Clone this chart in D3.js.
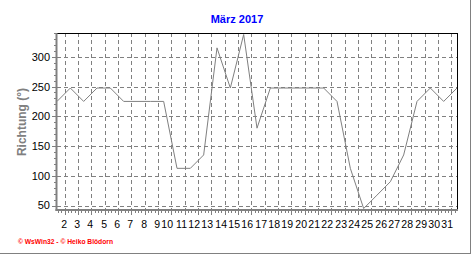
<!DOCTYPE html>
<html><head><meta charset="utf-8">
<script src="https://cdn.jsdelivr.net/npm/d3@7"></script>
<style>body{margin:0;background:#fff}svg{display:block}</style>
</head><body>
<script>
const title = "März 2017";
const yLabel = "Richtung (°)";
const footer = "© WsWin32 - © Heiko Blödorn";
const days = d3.range(1, 32);
const direction = [225, 247.5, 225, 247.5, 247.5, 225, 225, 225, 225, 112.5, 112.5, 135, 315, 247.5, 337.5, 180,
  247.5, 247.5, 247.5, 247.5, 247.5, 225, 112.5, 45, 67.5, 90, 135, 225, 247.5, 225, 247.5];
const xTickLabels = d3.range(2, 32);
const yTicks = [50, 100, 150, 200, 250, 300];
const yDomain = [45, 340];

const W = 472, H = 255;
const L = 57, R = 457, T = 33, B = 208.5;
const svg = d3.select("body").append("svg").attr("width", W).attr("height", H);
svg.append("rect").attr("width", W).attr("height", H).attr("fill", "#fff");

const x = d3.scaleLinear().domain([1, 31]).range([L, R]);
const y = d3.scaleLinear().domain(yDomain).range([B, T]);
const gridOff = 0.42;
const gx = d => Math.round(x(d - gridOff)) + 0.5;

// frame shadow
svg.append("line").attr("x1", 0).attr("x2", 471).attr("y1", 253.5).attr("y2", 253.5).attr("stroke", "#808080");
svg.append("line").attr("x1", 470.5).attr("x2", 470.5).attr("y1", 0).attr("y2", 254).attr("stroke", "#808080");

// grid
const g = svg.append("g").attr("stroke", "#808080").attr("stroke-dasharray", "4,3").attr("stroke-width", 1);
g.selectAll(".hg").data(yTicks).join("line")
  .attr("x1", L).attr("x2", R)
  .attr("y1", d => Math.round(y(d)) + 0.5).attr("y2", d => Math.round(y(d)) + 0.5);
g.selectAll(".vg").data(xTickLabels).join("line")
  .attr("x1", d => gx(d)).attr("x2", d => gx(d))
  .attr("y1", T).attr("y2", 209);

// top/right border
svg.append("line").attr("x1", L).attr("x2", R + 1).attr("y1", T + 0.5).attr("y2", T + 0.5).attr("stroke", "#000");
svg.append("line").attr("x1", R + 0.5).attr("x2", R + 0.5).attr("y1", T).attr("y2", 211).attr("stroke", "#000");

// data line
svg.append("path")
  .datum(days.map((d, i) => [d, direction[i]]))
  .attr("fill", "none").attr("stroke", "#808080").attr("stroke-width", 1)
  .attr("d", d3.line().x(d => x(d[0])).y(d => y(d[1])));

// axes
const axc = "#808080";
svg.append("line").attr("x1", 56.5).attr("x2", 56.5).attr("y1", T).attr("y2", 211).attr("stroke", axc).attr("stroke-width", 2);
svg.append("line").attr("x1", 55.5).attr("x2", R + 1).attr("y1", 210).attr("y2", 210).attr("stroke", axc).attr("stroke-width", 2);

// y ticks
const yMinor = d3.range(50, 341, 10);
svg.selectAll(".ymt").data(yMinor).join("line")
  .attr("x1", d => d % 50 === 0 ? 52 : 54).attr("x2", 56)
  .attr("y1", d => Math.round(y(d)) + 0.5).attr("y2", d => Math.round(y(d)) + 0.5)
  .attr("stroke", axc);
svg.selectAll(".ytl").data(yTicks).join("text")
  .attr("x", 50).attr("y", d => y(d)).attr("dy", "0.36em")
  .attr("text-anchor", "end").attr("font-family", "Liberation Sans, Arial, sans-serif")
  .attr("font-size", 11).attr("fill", "#000").text(d => d);

// x ticks
const xMinor = d3.range(0, 31 * 4 + 8).map(k => 1 - gridOff - 1 + k / 4).filter(d => x(d) >= L && x(d) <= R);
svg.selectAll(".xmt").data(xMinor).join("line")
  .attr("x1", d => Math.round(x(d)) + 0.5).attr("x2", d => Math.round(x(d)) + 0.5)
  .attr("y1", 211).attr("y2", 213).attr("stroke", axc);
svg.selectAll(".xMt").data(xTickLabels).join("line")
  .attr("x1", d => gx(d)).attr("x2", d => gx(d))
  .attr("y1", 211).attr("y2", 215).attr("stroke", axc);
svg.selectAll(".xtl").data(xTickLabels).join("text")
  .attr("x", d => gx(d) + 1.5).attr("y", 227.5)
  .attr("text-anchor", "end").attr("font-family", "Liberation Sans, Arial, sans-serif")
  .attr("font-size", 10.5).attr("fill", "#000").text(d => d);

// title
svg.append("text").attr("x", 237).attr("y", 23.3).attr("text-anchor", "middle")
  .attr("font-family", "Liberation Sans, Arial, sans-serif").attr("font-weight", "bold")
  .attr("font-size", 11).attr("fill", "#0000ff").text(title);

// y label
svg.append("text").attr("transform", "translate(26,122) rotate(-90)").attr("text-anchor", "middle")
  .attr("font-family", "Liberation Sans, Arial, sans-serif").attr("font-weight", "bold")
  .attr("font-size", 12).attr("fill", "#808080").text(yLabel);

// footer
svg.append("text").attr("x", 18).attr("y", 243.5)
  .attr("font-family", "Liberation Sans, Arial, sans-serif").attr("font-weight", "bold")
  .attr("font-size", 8).attr("fill", "#ff0000")
  .attr("textLength", 95).attr("lengthAdjust", "spacingAndGlyphs").text(footer);
</script>
</body></html>
